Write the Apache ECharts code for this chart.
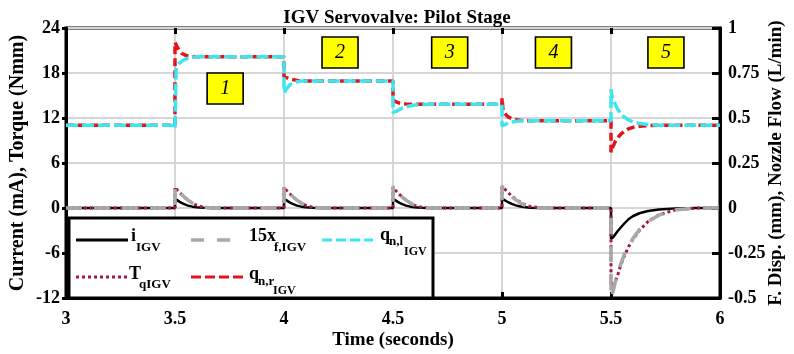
<!DOCTYPE html>
<html><head><meta charset="utf-8">
<script src="https://cdn.jsdelivr.net/npm/echarts@6/dist/echarts.min.js"></script>
<style>html,body{margin:0;padding:0;background:#fff}#c{width:794px;height:354px}</style>
</head><body><div id="c"></div>
<script>
// ---- data ----
const time = [3.0,
 3.5,3.5,3.505,3.51,3.52,3.53,3.545,3.56,3.58,3.6,3.63,3.67,3.72,3.8,3.9,
 4.0,4.0,4.005,4.01,4.02,4.03,4.045,4.06,4.08,4.1,4.13,4.17,4.22,4.3,4.4,
 4.5,4.5,4.505,4.51,4.52,4.53,4.545,4.56,4.58,4.6,4.63,4.67,4.72,4.8,4.9,
 5.0,5.0,5.005,5.01,5.02,5.03,5.045,5.06,5.08,5.1,5.13,5.17,5.22,5.3,5.4,
 5.5,5.5,5.505,5.51,5.52,5.53,5.545,5.56,5.58,5.6,5.63,5.67,5.72,5.8,5.9,
 6.0];
// Current i_IGV (mA), left axis
const currentIGV = [0,
 0,1.2,1.15,1.05,0.85,0.68,0.48,0.32,0.18,0.09,0.03,0,0,0,0,
 0,1.2,1.15,1.05,0.85,0.68,0.48,0.32,0.18,0.09,0.03,0,0,0,0,
 0,1.2,1.15,1.05,0.85,0.68,0.48,0.32,0.18,0.09,0.03,0,0,0,0,
 0,1.2,1.16,1.08,0.9,0.74,0.55,0.38,0.22,0.12,0.04,0.01,0,0,0,
 0,-4.1,-4.1,-3.9,-3.5,-3.1,-2.6,-2.1,-1.5,-1.1,-0.7,-0.4,-0.2,-0.05,0,
 0];
// Torque T_qIGV (Nmm), left axis
const torqueIGV = [0,
 0,2.8,2.6,2.4,2.1,1.8,1.4,1.05,0.65,0.35,0.1,0,0,0,0,
 0,2.8,2.6,2.4,2.1,1.8,1.4,1.05,0.65,0.35,0.1,0,0,0,0,
 0,2.8,2.6,2.4,2.1,1.8,1.4,1.05,0.65,0.35,0.1,0,0,0,0,
 0,2.9,2.75,2.6,2.3,2.0,1.6,1.25,0.85,0.5,0.2,0.05,0,0,0,
 0,-10.4,-10.4,-10.2,-9.8,-9.0,-7.6,-6.5,-5.2,-4.2,-3.0,-1.8,-0.9,-0.2,0,
 0];
// 15 x flapper displacement (mm), right axis
const flapper15x = [0,
 0,0.12,0.112,0.104,0.09,0.076,0.058,0.043,0.027,0.014,0.005,0,0,0,0,
 0,0.12,0.112,0.104,0.09,0.076,0.058,0.043,0.027,0.014,0.005,0,0,0,0,
 0,0.12,0.112,0.104,0.09,0.076,0.058,0.043,0.027,0.014,0.005,0,0,0,0,
 0,0.12,0.114,0.107,0.094,0.08,0.063,0.048,0.031,0.017,0.006,0.001,0,0,0,
 0,-0.5,-0.48,-0.46,-0.41,-0.36,-0.31,-0.26,-0.21,-0.17,-0.12,-0.075,-0.04,-0.01,0,
 0];
// left nozzle flow q_n,l (L/min), right axis
const flowLeft = [0.46,
 0.46,0.445,0.77,0.79,0.805,0.815,0.825,0.832,0.837,0.84,0.84,0.84,0.84,0.84,0.84,
 0.84,0.64,0.648,0.658,0.675,0.687,0.697,0.702,0.705,0.706,0.706,0.706,0.706,0.706,0.706,
 0.706,0.53,0.532,0.535,0.54,0.548,0.556,0.562,0.568,0.572,0.575,0.576,0.576,0.576,0.576,
 0.576,0.455,0.458,0.462,0.468,0.473,0.478,0.481,0.484,0.485,0.485,0.485,0.485,0.485,0.485,
 0.485,0.66,0.62,0.6,0.575,0.55,0.525,0.505,0.49,0.478,0.47,0.464,0.46,0.46,0.46,
 0.46];
// right nozzle flow q_n,r (L/min), right axis
const flowRight = [0.46,
 0.46,0.92,0.91,0.895,0.875,0.86,0.85,0.845,0.842,0.84,0.84,0.84,0.84,0.84,0.84,
 0.84,0.73,0.728,0.725,0.72,0.716,0.712,0.709,0.707,0.706,0.706,0.706,0.706,0.706,0.706,
 0.706,0.6,0.596,0.592,0.587,0.583,0.58,0.578,0.577,0.576,0.576,0.576,0.576,0.576,0.576,
 0.576,0.61,0.54,0.53,0.515,0.505,0.497,0.492,0.488,0.486,0.485,0.485,0.485,0.485,0.485,
 0.485,0.31,0.33,0.345,0.37,0.39,0.41,0.425,0.44,0.448,0.454,0.458,0.46,0.46,0.46,
 0.46];
const stepLabels = ['1','2','3','4','5'];
const stepTimes = [3.73, 4.257, 4.76, 5.236, 5.752];
const stepFlow = [0.664, 0.864, 0.864, 0.864, 0.864];

// ---- chart ----
const F = '"Liberation Serif","Times New Roman",serif';
const chart = echarts.init(document.getElementById('c'));
const pairs = v => time.map((t, i) => [t, v[i]]);
const axisLbl = {fontFamily: F, fontSize: 18, fontWeight: 'bold', color: '#000'};
const nameStyle = {fontFamily: F, fontSize: 19, fontWeight: 'bold', color: '#000'};

function txt(text, x, y, size, extra) {
  return Object.assign({type: 'text', z: 101, style: {text: text, x: x, y: y,
    font: 'bold ' + size + 'px ' + F, fill: '#000', textVerticalAlign: 'middle'}}, extra || {});
}
function keyLine(x1, x2, y, color, width, dash) {
  return {type: 'line', z: 101, shape: {x1: x1, y1: y, x2: x2, y2: y},
    style: {stroke: color, lineWidth: width, lineDash: dash || null}};
}

chart.setOption({
  animation: false,
  title: {text: 'IGV Servovalve: Pilot Stage', left: 'center', top: 4,
    textStyle: {fontFamily: F, fontSize: 19, fontWeight: 'bold', color: '#000'}},
  grid: {left: 66, right: 74, top: 28, bottom: 56, show: true, borderColor: '#000', borderWidth: 3,
    containLabel: false, outerBoundsMode: 'none'},
  xAxis: [{
    type: 'value', min: 3, max: 6, interval: 0.5,
    name: 'Time (seconds)', nameLocation: 'middle', nameGap: 33, nameTextStyle: nameStyle,
    nameMoveOverlap: false,
    axisLine: {show: true, onZero: false, lineStyle: {color: '#000', width: 3}},
    axisTick: {show: true, inside: true, length: 6, lineStyle: {color: '#000', width: 3}},
    axisLabel: Object.assign({margin: 12}, axisLbl),
    splitLine: {show: true, lineStyle: {color: '#d6d6d6', width: 2}}
  }, {
    type: 'value', min: 3, max: 6, interval: 0.5, position: 'top',
    axisLine: {show: false, onZero: false}, axisLabel: {show: false}, splitLine: {show: false},
    axisTick: {show: true, inside: true, length: 6, lineStyle: {color: '#000', width: 3}}
  }],
  yAxis: [{
    type: 'value', min: -12, max: 24, interval: 6,
    name: 'Current (mA), Torque (Nmm)', nameLocation: 'middle', nameGap: 38,
    nameMoveOverlap: false,
    nameTextStyle: Object.assign({}, nameStyle, {fontSize: 20}),
    axisLine: {show: true, onZero: false, lineStyle: {color: '#000', width: 3}},
    axisTick: {show: true, inside: false, length: 4, lineStyle: {color: '#000', width: 3}},
    axisLabel: Object.assign({margin: 6}, axisLbl),
    splitLine: {show: true, lineStyle: {color: '#d6d6d6', width: 2}}
  }, {
    type: 'value', min: -0.5, max: 1, interval: 0.25, position: 'right',
    name: 'F. Disp. (mm), Nozzle Flow (L/min)', nameLocation: 'middle', nameGap: 47,
    nameMoveOverlap: false,
    nameTextStyle: Object.assign({}, nameStyle, {fontSize: 19}),
    nameRotate: 90,
    axisLine: {show: true, onZero: false, lineStyle: {color: '#000', width: 3}},
    axisTick: {show: true, inside: true, length: 8, lineStyle: {color: '#000', width: 3}},
    axisLabel: Object.assign({margin: 8}, axisLbl),
    splitLine: {show: false}
  }],
  series: [
    {name: 'i', type: 'line', data: pairs(currentIGV), symbol: 'none', z: 2,
     lineStyle: {color: '#000', width: 2.5}},
    {name: 'T', type: 'line', data: pairs(torqueIGV), symbol: 'none', z: 3,
     lineStyle: {color: '#a3193f', width: 3, type: [3, 3]}},
    {name: 'x', type: 'line', yAxisIndex: 1, data: pairs(flapper15x), symbol: 'none', z: 4,
     lineStyle: {color: '#a8a8a8', width: 3.5, type: [16, 12]}},
    {name: 'qr', type: 'line', yAxisIndex: 1, data: pairs(flowRight), symbol: 'none', z: 5,
     lineStyle: {color: '#e3141c', width: 3.5, type: [8, 4]}},
    {name: 'ql', type: 'line', yAxisIndex: 1, data: pairs(flowLeft), symbol: 'none', z: 6,
     lineStyle: {color: '#3ee4ef', width: 3.5, type: [12, 4]},
     markPoint: {
       silent: true, symbol: 'rect', symbolSize: [36, 31],
       itemStyle: {color: '#ffff00', borderColor: '#000', borderWidth: 1.5},
       label: {show: true, position: 'inside', formatter: p => p.name,
         fontFamily: F, fontStyle: 'italic', fontSize: 20, color: '#000'},
       data: stepLabels.map((s, i) => ({name: s, coord: [stepTimes[i], stepFlow[i]]}))
     }}
  ],
  graphic: [
    {type: 'rect', z: 100, shape: {x: 69, y: 218, width: 364, height: 80},
     style: {fill: '#fff', stroke: '#000', lineWidth: 3}},
    keyLine(76, 128, 240, '#000', 3),
    txt('i', 131, 236, 18),
    txt('IGV', 136, 248, 13),
    keyLine(191, 235, 240, '#a8a8a8', 3.5, [13, 13]),
    txt('15x', 249, 236, 18),
    txt('f,IGV', 274, 248, 13),
    keyLine(322, 373, 240, '#3ee4ef', 3, [10, 4]),
    txt('q', 380, 235, 18),
    txt('n,l', 389, 242, 13),
    txt('IGV', 404, 252, 12),
    keyLine(76, 128, 277, '#a3193f', 3, [3, 3]),
    txt('T', 129, 274, 18),
    txt('qIGV', 139, 285, 13),
    keyLine(191, 243, 277, '#e3141c', 3, [10, 4]),
    txt('q', 249, 274, 18),
    txt('n,r', 258, 282, 13),
    txt('IGV', 273, 291, 12)
  ]
});
</script>
</body></html>
